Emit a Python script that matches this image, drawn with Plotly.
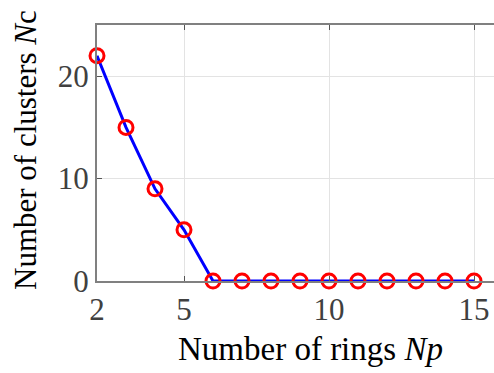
import plotly.graph_objects as go

rings = [2, 3, 4, 5, 6, 7, 8, 9, 10, 11, 12, 13, 14, 15]
clusters = [22, 15, 9, 5, 0, 0, 0, 0, 0, 0, 0, 0, 0, 0]
x_ticks = [2, 5, 10, 15]
y_ticks = [0, 10, 20]

W, H = 494, 373
ml, mt, mb, mr = 97, 25, 92, 0

fig = go.Figure()
fig.add_trace(go.Scatter(
    x=rings, y=clusters, mode="lines+markers",
    line=dict(color="#0000ff", width=3),
    marker=dict(symbol="circle-open", size=14, color="#ff0000", line=dict(width=3, color="#ff0000")),
    cliponaxis=False,
))

font = "Liberation Serif, Times New Roman, serif"
fs_tick = 31
fs_xtitle = 33
fs_ytitle = 31
fig.update_layout(
    width=W, height=H, margin=dict(l=ml, r=mr, t=mt, b=mb),
    paper_bgcolor="white", plot_bgcolor="white", showlegend=False,
    font=dict(family=font, size=fs_tick, color="#404040"),
    xaxis=dict(range=[2, 2 + (W - ml) / 29.0], tickvals=x_ticks, ticks="inside", ticklen=5,
               tickcolor="#555555", showline=True, linecolor="#808080", linewidth=2, mirror="ticks",
               showgrid=True, gridcolor="#e3e3e3", gridwidth=1, zeroline=False,
               tickfont=dict(family=font, size=fs_tick, color="#404040")),
    yaxis=dict(range=[0, 25], tickvals=y_ticks, ticks="inside", ticklen=5,
               tickcolor="#555555", showline=True, linecolor="#808080", linewidth=2, mirror=False,
               showgrid=True, gridcolor="#e3e3e3", gridwidth=1, zeroline=False,
               tickfont=dict(family=font, size=fs_tick, color="#404040")),
    annotations=[
        dict(text="Number of rings <i>Np</i>", xref="paper", yref="paper", x=(310 - ml) / (W - ml), y=-(349 - 281) / (281 - mt),
             xanchor="center", yanchor="middle", showarrow=False, font=dict(family=font, size=fs_xtitle, color="black")),
        dict(text="Number of clusters <i>N</i>c", xref="paper", yref="paper", x=-(97 - 25) / (W - ml), y=(281 - 150) / (281 - mt),
             xanchor="center", yanchor="middle", textangle=-90, showarrow=False, font=dict(family=font, size=fs_ytitle, color="black")),
    ],
)
fig.write_html("out.html")
